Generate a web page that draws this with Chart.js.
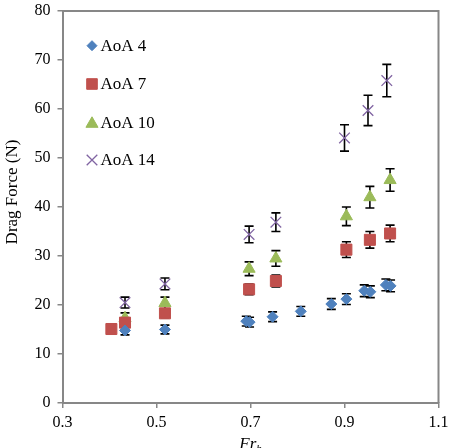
<!DOCTYPE html>
<html>
<head>
<meta charset="utf-8">
<script src="https://cdn.jsdelivr.net/npm/chart.js@4/dist/chart.umd.min.js"></script>
<style>
html,body{margin:0;padding:0;background:#fff;}
#wrap{width:449px;height:448px;position:relative;}
</style>
</head>
<body>
<div id="wrap"><canvas id="c" width="449" height="448"></canvas></div>
<script>
// ---- data ----
const xTicks = [0.3, 0.5, 0.7, 0.9, 1.1];
const yTicks = [0, 10, 20, 30, 40, 50, 60, 70, 80];

const aoa4X   = [0.433, 0.518, 0.691, 0.698, 0.747, 0.807, 0.872, 0.904, 0.942, 0.955, 0.988, 0.998];
const aoa4Y   = [14.8, 15.0, 16.7, 16.5, 17.6, 18.7, 20.2, 21.2, 22.9, 22.7, 24.1, 23.9];
const aoa4Err = [0.9, 0.9, 1.0, 1.0, 1.0, 1.0, 1.1, 1.1, 1.2, 1.2, 1.2, 1.2];

const aoa7X   = [0.404, 0.433, 0.518, 0.697, 0.754, 0.904, 0.954, 0.997];
const aoa7Y   = [15.1, 16.4, 18.3, 23.2, 24.9, 31.3, 33.3, 34.6];
const aoa7Err = [0.4, 0.8, 0.9, 1.1, 1.2, 1.6, 1.7, 1.7];

const aoa10X   = [0.433, 0.518, 0.697, 0.754, 0.904, 0.954, 0.997];
const aoa10Y   = [17.3, 20.4, 27.4, 29.5, 38.1, 42.0, 45.5];
const aoa10Err = [1.1, 1.2, 1.4, 1.6, 1.9, 2.2, 2.3];

const aoa14X   = [0.433, 0.518, 0.697, 0.754, 0.900, 0.950, 0.990];
const aoa14Y   = [20.5, 24.3, 34.4, 36.9, 54.1, 59.7, 65.8];
const aoa14Err = [1.1, 1.2, 1.7, 1.9, 2.7, 3.1, 3.3];

const seriesLabels = ['AoA 4', 'AoA 7', 'AoA 10', 'AoA 14'];
const xTitle = 'Fr';
const xTitleSub = 'h';
const yTitle = 'Drag Force (N)';

// ---- build datasets ----
function pts(xs, ys, es) { return xs.map((x, i) => ({x: x, y: ys[i], e: es[i]})); }
const SERIF = '"Liberation Serif","Times New Roman",serif';

const datasets = [
  {label: seriesLabels[0], data: pts(aoa4X, aoa4Y, aoa4Err), pointStyle: 'rectRot', pointRadius: 5.5,
   backgroundColor: '#4F81BD', borderColor: '#4F81BD', borderWidth: 1},
  {label: seriesLabels[1], data: pts(aoa7X, aoa7Y, aoa7Err), pointStyle: 'rect', pointRadius: 7.8,
   backgroundColor: '#C0504D', borderColor: '#C0504D', borderWidth: 1},
  {label: seriesLabels[2], data: pts(aoa10X, aoa10Y, aoa10Err), pointStyle: 'triangle', pointRadius: 7,
   backgroundColor: '#9BBB59', borderColor: '#9BBB59', borderWidth: 1},
  {label: seriesLabels[3], data: pts(aoa14X, aoa14Y, aoa14Err), pointStyle: 'crossRot', pointRadius: 7.5,
   backgroundColor: '#8064A2', borderColor: '#8064A2', borderWidth: 1.3}
];

const AXIS_GRAY = '#878787';

const errorBars = {
  id: 'errorBars',
  beforeDatasetsDraw(chart) {
    const ctx = chart.ctx, xs = chart.scales.x, ys = chart.scales.y;
    ctx.save();
    ctx.strokeStyle = '#000';
    ctx.lineWidth = 1.6;
    chart.data.datasets.forEach(ds => {
      ds.data.forEach(p => {
        const px = xs.getPixelForValue(p.x);
        const top = ys.getPixelForValue(p.y + p.e);
        const bot = ys.getPixelForValue(p.y - p.e);
        ctx.beginPath();
        ctx.moveTo(px, top); ctx.lineTo(px, bot);
        ctx.moveTo(px - 4.5, top); ctx.lineTo(px + 4.5, top);
        ctx.moveTo(px - 4.5, bot); ctx.lineTo(px + 4.5, bot);
        ctx.stroke();
      });
    });
    ctx.restore();
  }
};

const frameAndText = {
  id: 'frameAndText',
  afterDraw(chart) {
    const ctx = chart.ctx, a = chart.chartArea;
    ctx.save();
    // top and right frame lines
    ctx.strokeStyle = AXIS_GRAY;
    ctx.lineWidth = 2;
    ctx.beginPath();
    ctx.moveTo(a.left, a.top); ctx.lineTo(a.right, a.top); ctx.lineTo(a.right, a.bottom);
    ctx.stroke();

    // legend inside plot
    const legX = 92, legTextX = 100.5, legY = [45.7, 84, 122.3, 160];
    chart.data.datasets.forEach((ds, i) => {
      const r = ds.pointStyle === 'rect' ? 7.5 : (ds.pointStyle === 'rectRot' ? 5 : ds.pointRadius);
      ctx.fillStyle = ds.backgroundColor;
      ctx.strokeStyle = ds.borderColor;
      ctx.lineWidth = ds.borderWidth;
      Chart.helpers.drawPoint(ctx, {pointStyle: ds.pointStyle, radius: r, borderWidth: ds.borderWidth, rotation: 0}, legX,
        ds.pointStyle === 'triangle' ? legY[i] + 1.5 : legY[i]);
      ctx.fillStyle = '#000';
      ctx.font = '17px ' + SERIF;
      ctx.textBaseline = 'middle';
      ctx.textAlign = 'left';
      ctx.fillText(ds.label, legTextX, legY[i] + 1);
    });

    // y title
    ctx.save();
    ctx.translate(13, 192);
    ctx.rotate(-Math.PI / 2);
    ctx.font = '17px ' + SERIF;
    ctx.fillStyle = '#000';
    ctx.textAlign = 'center';
    ctx.textBaseline = 'middle';
    ctx.fillText(yTitle, 0, 0);
    ctx.restore();

    // x title (italic with subscript, cut by canvas edge as in reference)
    ctx.font = 'italic 17px ' + SERIF;
    ctx.fillStyle = '#000';
    ctx.textBaseline = 'alphabetic';
    ctx.textAlign = 'left';
    const cx = (a.left + a.right) / 2;
    const w1 = ctx.measureText(xTitle).width;
    ctx.font = 'italic 11px ' + SERIF;
    const w2 = ctx.measureText(xTitleSub).width;
    const start = cx - (w1 + w2) / 2;
    ctx.font = 'italic 17px ' + SERIF;
    ctx.fillText(xTitle, start, 449);
    ctx.font = 'italic 11px ' + SERIF;
    ctx.fillText(xTitleSub, start + w1, 452);
    ctx.restore();
  }
};

new Chart(document.getElementById('c'), {
  type: 'scatter',
  data: {datasets: datasets},
  options: {
    responsive: false,
    animation: false,
    devicePixelRatio: 1,
    layout: {padding: {top: 11, right: 10.5, left: 0, bottom: 0}},
    plugins: {legend: {display: false}, tooltip: {enabled: false}},
    scales: {
      x: {
        type: 'linear', min: 0.3, max: 1.1,
        afterFit(s) { s.height = 45; s.paddingLeft = 0; s.paddingRight = 0; },
        afterBuildTicks(s) { s.ticks = xTicks.map(v => ({value: v})); },
        grid: {display: true, drawOnChartArea: false, drawTicks: true, tickLength: 5, color: AXIS_GRAY, lineWidth: 1.5},
        border: {display: true, color: AXIS_GRAY, width: 2},
        ticks: {color: '#000', font: {family: SERIF, size: 16}, padding: 5, maxRotation: 0,
                callback: v => v.toFixed(1)}
      },
      y: {
        type: 'linear', min: 0, max: 80,
        afterFit(s) { s.width = 62.5; s.paddingTop = 0; s.paddingBottom = 0; },
        afterBuildTicks(s) { s.ticks = yTicks.map(v => ({value: v})); },
        grid: {display: true, drawOnChartArea: false, drawTicks: true, tickLength: 5, color: AXIS_GRAY, lineWidth: 1.5},
        border: {display: true, color: AXIS_GRAY, width: 2},
        ticks: {color: '#000', font: {family: SERIF, size: 16}, padding: 7,
                callback: v => String(v)}
      }
    }
  },
  plugins: [errorBars, frameAndText]
});
</script>
</body>
</html>
